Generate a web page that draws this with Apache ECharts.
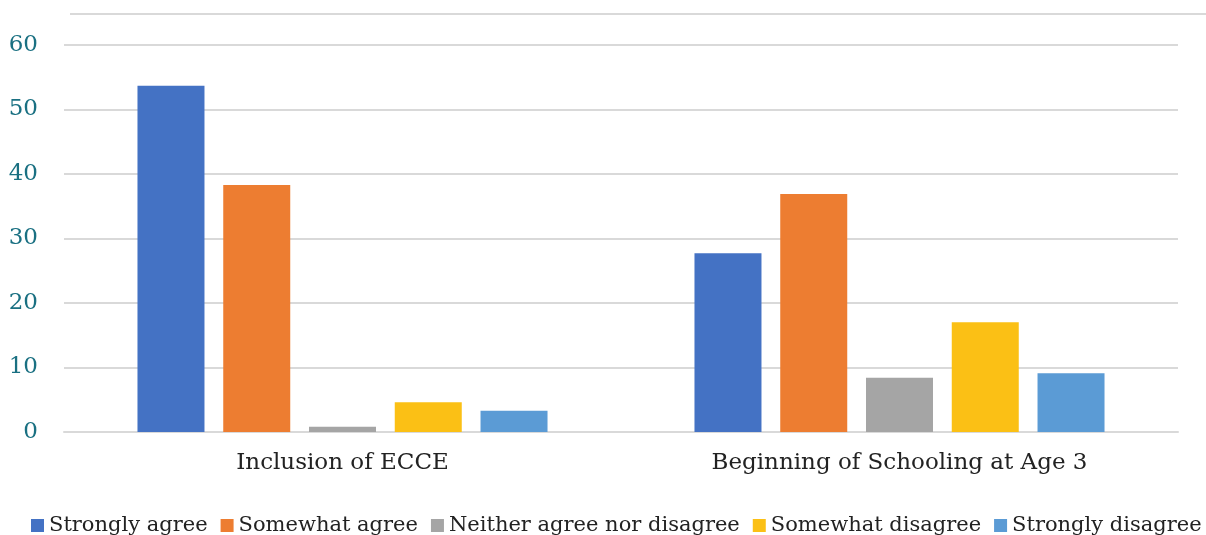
<!DOCTYPE html>
<html>
<head>
<meta charset="utf-8">
<script src="https://cdn.jsdelivr.net/npm/echarts@6/dist/echarts.min.js"></script>
<style>
  html, body { margin: 0; padding: 0; background: #fff; }
  #chart { width: 1206px; height: 535px; }
</style>
</head>
<body>
<div id="chart"></div>
<script>
var categories = ['Inclusion of ECCE', 'Beginning of Schooling at Age 3'];
var seriesNames = ['Strongly agree', 'Somewhat agree', 'Neither agree nor disagree', 'Somewhat disagree', 'Strongly disagree'];
var stronglyAgree = [53.7, 27.7];
var somewhatAgree = [38.3, 36.9];
var neither = [0.8, 8.4];
var somewhatDisagree = [4.6, 17.0];
var stronglyDisagree = [3.3, 9.1];
var colors = ['#4472C4', '#ED7D31', '#A5A5A5', '#FBC015', '#5B9BD5'];

var values = [stronglyAgree, somewhatAgree, neither, somewhatDisagree, stronglyDisagree];
var font = '"DejaVu Serif", serif';

var chart = echarts.init(document.getElementById('chart'));

var series = [];
for (var i = 0; i < seriesNames.length; i++) {
    series.push({
        name: seriesNames[i],
        type: 'bar',
        data: values[i],
        barWidth: 67,
        barGap: '28%',
        itemStyle: { color: colors[i] }
    });
}

var option = {
    animation: false,
    color: colors,
    textStyle: { fontFamily: font },
    grid: { left: 64, right: 28, top: 45, bottom: 103 },
    legend: {
        bottom: -6,
        left: 26,
        width: 1300,
        itemWidth: 13,
        itemHeight: 13,
        itemGap: 13,
        icon: 'rect',
        textStyle: { fontFamily: font, fontSize: 21, color: '#222', padding: [0, 0, 0, 0] },
        data: seriesNames
    },
    xAxis: {
        type: 'category',
        data: categories,
        axisLine: { lineStyle: { color: '#d9d9d9', width: 2 } },
        axisTick: { show: false },
        axisLabel: { fontFamily: font, fontSize: 23, color: '#222', margin: 20 }
    },
    yAxis: {
        type: 'value',
        min: 0,
        max: 60,
        interval: 10,
        axisLine: { show: false },
        axisTick: { show: false },
        splitLine: { lineStyle: { color: '#d9d9d9', width: 2 } },
        axisLabel: { fontFamily: font, fontSize: 23, color: '#1a7082', margin: 26 }
    },
    graphic: [{
        type: 'line',
        shape: { x1: 70, y1: 14, x2: 1206, y2: 14 },
        style: { stroke: '#d9d9d9', lineWidth: 2 }
    }],
    series: series
};

chart.setOption(option);
</script>
</body>
</html>
